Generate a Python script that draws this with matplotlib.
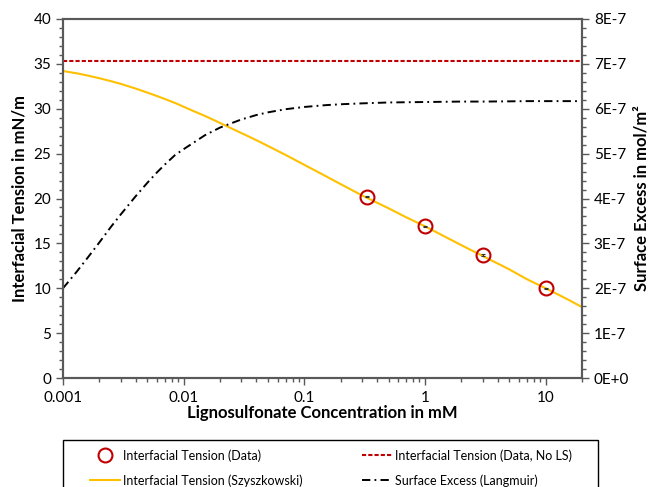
import numpy as np
from matplotlib import pyplot as plt
from matplotlib.ticker import MultipleLocator, FuncFormatter, LogLocator, FixedLocator
from matplotlib.patches import Rectangle

plt.rcParams['font.family'] = ['Lato', 'DejaVu Sans']
plt.rcParams['lines.scale_dashes'] = False

# measured interfacial tension (mN/m)
conc_data = [0.333, 1.0, 3.0, 10.0]
tension_data = [20.2, 16.9, 13.7, 10.0]
tension_err = [0.08, 0.08, 0.08, 0.08]

# reference without lignosulfonate
tension_no_ls = 35.3

# fitted curves
conc_fit = [0.001, 0.0013, 0.0016, 0.002, 0.0025, 0.003, 0.004, 0.005, 0.006,
            0.007, 0.0085, 0.01, 0.0125, 0.015, 0.02, 0.025, 0.03, 0.04, 0.05,
            0.07, 0.1, 0.15, 0.2, 0.3, 0.5, 0.7, 1.0, 2.0, 3.0, 5.0, 7.0,
            10.0, 15.0, 20.0]
tension_szysz = [34.2, 33.95, 33.7, 33.4, 33.07, 32.78, 32.25, 31.8, 31.42,
                 31.08, 30.64, 30.22, 29.65, 29.2, 28.42, 27.8, 27.3, 26.5,
                 25.85, 24.85, 23.75, 22.5, 21.6, 20.35, 18.9, 17.9, 16.9,
                 14.8, 13.6, 12.1, 11.0, 10.0, 8.8, 7.9]
surface_excess = [2.00e-7, 2.37e-7, 2.68e-7, 3.02e-7, 3.37e-7, 3.64e-7, 4.05e-7,
                  4.35e-7, 4.58e-7, 4.76e-7, 4.97e-7, 5.10e-7, 5.27e-7, 5.41e-7,
                  5.58e-7, 5.68e-7, 5.76e-7, 5.86e-7, 5.92e-7, 5.99e-7, 6.04e-7,
                  6.08e-7, 6.10e-7, 6.12e-7, 6.14e-7, 6.145e-7, 6.15e-7, 6.16e-7,
                  6.16e-7, 6.165e-7, 6.17e-7, 6.17e-7, 6.17e-7, 6.17e-7]

spine_col = '#595959'

fig = plt.figure(figsize=(6.54, 4.87), dpi=100)
ax = fig.add_axes([63 / 654, 1 - 378 / 487, 519 / 654, 359 / 487])
ax2 = ax.twinx()

ln_nols = ax.axhline(tension_no_ls, color='#C00000', lw=1.5, dashes=(3, 1.5),
                     label='Interfacial Tension (Data, No LS)')
ln_fit, = ax.plot(conc_fit, tension_szysz, color='#FFC000', lw=1.5,
                  label='Interfacial Tension (Szyszkowski)')
ax.errorbar(conc_data, tension_data, yerr=tension_err, fmt='none', ecolor='#333333',
            elinewidth=0.8, capsize=1.5, capthick=0.8, zorder=4)
ln_data, = ax.plot(conc_data, tension_data, 'o', mfc='none', mec='#C00000', mew=1.5,
                   ms=10, zorder=5, label='Interfacial Tension (Data)')
ln_surf, = ax2.plot(conc_fit, surface_excess, color='black', lw=1.4,
                    dashes=(6, 3, 1.3, 3), label='Surface Excess (Langmuir)')

ax.set_xscale('log')
ax.set_xlim(0.001, 20)
ax.set_ylim(0, 40)
ax2.set_ylim(0, 8e-7)

ax.yaxis.set_major_locator(MultipleLocator(5))
ax.yaxis.set_minor_locator(MultipleLocator(1))
ax2.yaxis.set_major_locator(MultipleLocator(1e-7))
ax2.yaxis.set_minor_locator(MultipleLocator(2e-8))
ax2.yaxis.set_major_formatter(FuncFormatter(
    lambda v, p: '0E+0' if abs(v) < 1e-12 else '%dE-7' % round(v * 1e7)))

ax.xaxis.set_major_locator(FixedLocator([0.001, 0.01, 0.1, 1, 10]))
ax.xaxis.set_major_formatter(FuncFormatter(lambda v, p: '%g' % v))
ax.xaxis.set_minor_locator(LogLocator(base=10, subs=np.arange(2, 10), numticks=20))
ax.xaxis.set_minor_formatter(FuncFormatter(lambda v, p: ''))

for a in (ax, ax2):
    for s in a.spines.values():
        s.set_color(spine_col)
        s.set_linewidth(1.5)
    a.tick_params(which='both', direction='out', color=spine_col, labelsize=11,
                  labelcolor='black')
    a.tick_params(which='major', length=5, width=1)
    a.tick_params(which='minor', length=3, width=1)
ax.tick_params(axis='x', pad=4)

ax.set_xlabel('Lignosulfonate Concentration in mM', fontsize=12, fontweight='bold')
ax.set_ylabel('Interfacial Tension in mN/m', fontsize=12, fontweight='bold')
ax2.set_ylabel('Surface Excess in mol/m²', fontsize=12, fontweight='bold')
ax.xaxis.set_label_coords(0.5, -0.074)
ax.yaxis.set_label_coords(-0.068, 0.5)
ax2.yaxis.set_label_coords(1.1, 0.5)

fig.patches.append(Rectangle((63 / 654, -0.05), 535 / 654, 0.05 + 47 / 487,
                             transform=fig.transFigure, fill=False,
                             edgecolor='black', lw=1.0))
fig.legend([ln_data, ln_fit, ln_nols, ln_surf],
           [h.get_label() for h in (ln_data, ln_fit, ln_nols, ln_surf)],
           ncol=2, loc='upper center', bbox_to_anchor=(331 / 654, 1 - 443 / 487),
           frameon=False, fontsize=9, handlelength=2.4, handletextpad=0.2,
           columnspacing=4.8, labelspacing=1.0, borderpad=0)

fig.savefig('out.png', dpi=100)
